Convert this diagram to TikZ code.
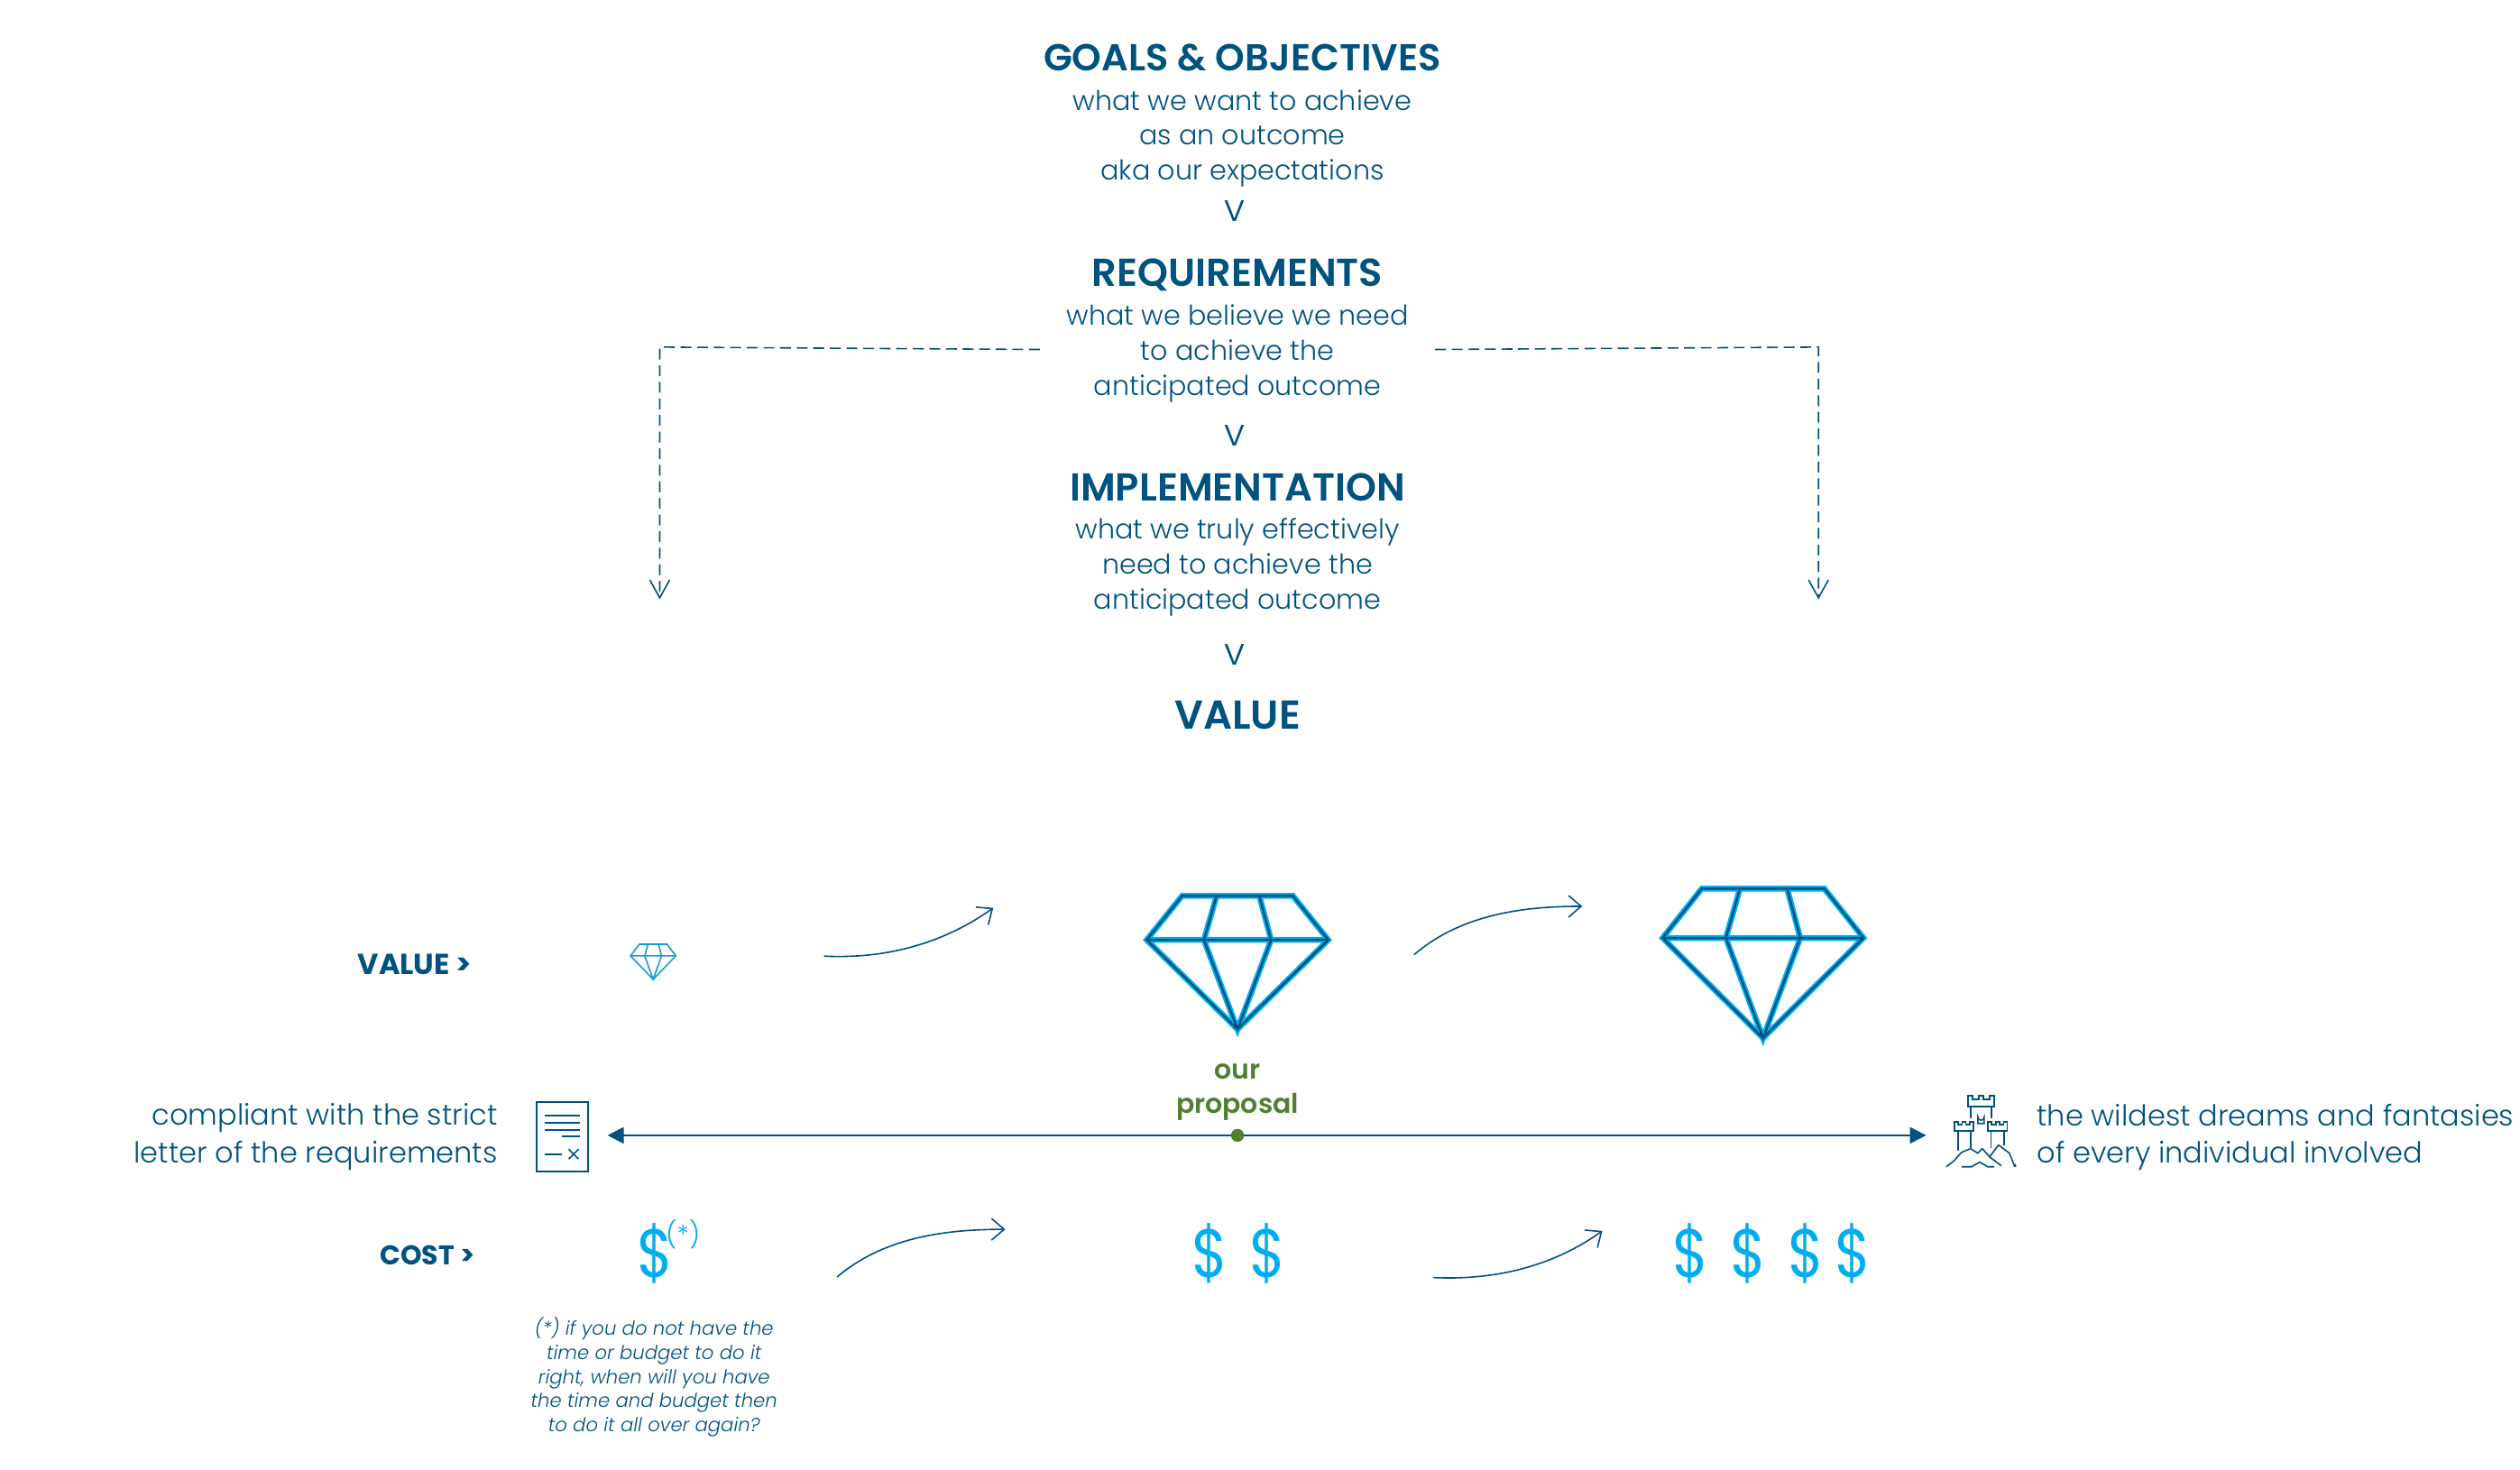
\documentclass[tikz,border=0pt]{standalone}
\usepackage{fontspec}
\usetikzlibrary{arrows.meta}
\newfontfamily\bodyf{Poppins}[UprightFont=* Light,ItalicFont=* Light Italic,BoldFont=* SemiBold]
\newfontfamily\headf{Poppins}[UprightFont=* SemiBold]
\newfontfamily\heavyf{Poppins}[UprightFont=* Bold]
\newfontfamily\regf{Poppins}
\definecolor{navy}{HTML}{00527F}
\definecolor{cyanb}{HTML}{00AEEF}
\definecolor{midb}{HTML}{1A9CD0}
\definecolor{leaf}{HTML}{4F7F2F}
\tikzset{
 x=0.4455pt,y=-0.4455pt,
 head/.style={text=navy,inner sep=0pt,font=\headf\fontsize{10.8}{12}\selectfont},
 body/.style={text=navy,inner sep=0pt,align=center,font=\bodyf\fontsize{7.55}{9.65}\selectfont},
 side/.style={text=navy,inner sep=0pt,font=\bodyf\fontsize{8}{10.3}\selectfont},
 rowlab/.style={text=navy,inner sep=0pt,font=\heavyf\fontsize{7.5}{9}\selectfont},
 prop/.style={text=leaf,inner sep=0pt,align=center,font=\headf\fontsize{7.5}{9.4}\selectfont},
 dollar/.style={text=cyanb,inner sep=0pt,xscale=0.85,font=\regf\fontsize{19}{22}\selectfont},
 note/.style={text=navy,inner sep=0pt,align=center,font=\bodyf\itshape\fontsize{5.3}{6.7}\selectfont},
 vee/.style={text=navy,inner sep=0pt,font=\bodyf\fontsize{10.5}{12}\selectfont},
 dashline/.style={navy,line width=0.4pt,dash pattern=on 3pt off 1.6pt,-{Straight Barb[length=5pt,width=5.5pt]}},
 curve/.style={navy,line width=0.4pt,line cap=round,-{Straight Barb[length=3.5pt,width=6pt]}},
 axis/.style={navy,line width=0.55pt,{Triangle[length=4.5pt,width=4.5pt]}-{Triangle[length=4.5pt,width=4.5pt]}},
 icon/.style={navy,line width=0.4pt,line cap=butt},
}
% diamond: #1 left,#2 top,#3 width,#4 height
\newcommand{\gemlines}[5]{%
 \draw[#5] (#1+.195*#3,#2) -- (#1+.805*#3,#2) -- (#1+#3,#2+.33*#4) -- (#1+.5*#3,#2+#4) -- (#1,#2+.33*#4) -- cycle
  (#1,#2+.33*#4) -- (#1+#3,#2+.33*#4)
  (#1+.385*#3,#2) -- (#1+.315*#3,#2+.33*#4) -- (#1+.5*#3,#2+#4) -- (#1+.685*#3,#2+.33*#4) -- (#1+.62*#3,#2);}
\newcommand{\gemtwo}[4]{%
 \gemlines{#1}{#2}{#3}{#4}{cyanb,line width=1.6pt,line join=miter}
 \gemlines{#1}{#2}{#3}{#4}{navy,line width=0.6pt,line join=miter}}
\begin{document}
\begin{tikzpicture}
\useasboundingbox (0,-1) rectangle (1568,913.75);
% stack
\node[head,font=\headf\fontsize{10.4}{12}\selectfont] (goals) at (773,35) {GOALS \& OBJECTIVES};
\node[body] (goalsb) at (773,85) {what we want to achieve\\as an outcome\\aka our expectations};
\node[vee] (v1) at (768,130.5) {v};
\node[head] (req) at (770,170) {REQUIREMENTS};
\node[body] (reqb) at (770,219) {what we believe we need\\to achieve the\\anticipated outcome};
\node[vee] (v2) at (768,270) {v};
\node[head] (impl) at (770,302) {IMPLEMENTATION};
\node[body] (implb) at (770,352) {what we truly effectively\\need to achieve the\\anticipated outcome};
\node[vee] (v3) at (768,406.5) {v};
\node[head,font=\headf\fontsize{11.2}{12}\selectfont] (val) at (770,444) {VALUE};
% dashed connectors
\coordinate (dl0) at (647,216.5);
\coordinate (dl1) at (410.5,215);
\coordinate (dl2) at (410.5,372);
\coordinate (dr0) at (893,216.5);
\coordinate (dr1) at (1131.5,215);
\coordinate (dr2) at (1131.5,372);
\draw[dashline] (dl0) -- (dl1) -- (dl2);
\draw[dashline] (dr0) -- (dr1) -- (dr2);
% row labels
\node[rowlab,font=\heavyf\fontsize{8}{9}\selectfont] (rv) at (258,599) {VALUE >};
\node[rowlab] (rc) at (266,780) {COST >};
% gems
\gemlines{392.3}{586.6}{28.2}{21.9}{midb,line width=0.4pt}
\gemtwo{713.5}{556.5}{113}{83}
\gemtwo{1034.5}{552}{125}{93}
% curves
\coordinate (a0) at (513,594); \coordinate (a1) at (618,564);
\coordinate (b0) at (880,593); \coordinate (b1) at (984.5,563);
\coordinate (c0) at (521,793.5); \coordinate (c1) at (625.5,764);
\coordinate (d0) at (892,794); \coordinate (d1) at (997,765);
\draw[curve] (a0) .. controls (555,596) and (590,584) .. (a1);
\draw[curve] (b0) .. controls (908,569) and (945,563) .. (b1);
\draw[curve] (c0) .. controls (549,770) and (585,764) .. (c1);
\draw[curve] (d0) .. controls (934,796) and (969,785) .. (d1);
% axis
\coordinate (ax0) at (378,705.5);
\coordinate (ax1) at (1198.5,705.5);
\draw[axis] (ax0) -- (ax1);
\node[circle,fill=leaf,inner sep=0pt,minimum size=3.6pt] (dot) at (770,705.5) {};
\node[prop] (our) at (770,678.5) {our\\proposal};
% side text
\node[side,anchor=east,align=right] (lt) at (310,706.5) {compliant with the strict\\letter of the requirements};
\node[side,anchor=west,align=left] (rt) at (1267,706.5) {the wildest dreams and fantasies\\of every individual involved};
% document icon (reference pixels)
\begin{scope}[x=0.25pt,y=-0.25pt,icon]
\draw (595,1220) rectangle (652,1297);
\draw (604,1235) -- (643,1235) (604,1243) -- (643,1243) (604,1251) -- (643,1251) (623,1258) -- (643,1258) (604,1278) -- (623,1278);
\draw (630.5,1272.5) -- (641.5,1283.5) (630.5,1283.5) -- (641.5,1272.5);
\end{scope}
% castle icon (reference pixels)
\begin{scope}[x=0.25pt,y=-0.25pt,icon]
\draw (2182,1213) -- (2182,1225) -- (2211,1225) -- (2211,1213) -- (2206,1213) -- (2206,1217) -- (2199,1217) -- (2199,1213) -- (2194,1213) -- (2194,1217) -- (2187,1217) -- (2187,1213) -- cycle;
\draw (2185,1225) -- (2185,1238) (2208,1225) -- (2208,1238);
\draw (2193,1244) -- (2193,1237) arc[start angle=180,end angle=0,radius=3.5] -- (2200,1244) -- cycle;
\draw (2167,1242) -- (2167,1252) -- (2188,1252) -- (2188,1242) -- (2184,1242) -- (2184,1245) -- (2179.5,1245) -- (2179.5,1242) -- (2175.5,1242) -- (2175.5,1245) -- (2171,1245) -- (2171,1242) -- cycle;
\draw (2204,1242) -- (2204,1252) -- (2225.5,1252) -- (2225.5,1242) -- (2221.5,1242) -- (2221.5,1245) -- (2217,1245) -- (2217,1242) -- (2213,1242) -- (2213,1245) -- (2208,1245) -- (2208,1242) -- cycle;
\draw (2171,1252) -- (2171,1274) (2185,1252) -- (2185,1271) (2207.5,1252) -- (2207.5,1271) (2222,1252) -- (2222,1268);
\draw (2158,1292) -- (2166,1286) -- (2175,1276) -- (2185,1272) -- (2193,1277) -- (2198,1272) -- (2206,1281) -- (2216,1268) -- (2228,1277) -- (2234,1292);
\draw (2206,1281) -- (2219,1291) (2234,1289) -- (2235,1292);
\draw (2175,1292) -- (2186,1292) -- (2195,1287) -- (2204,1292) -- (2211,1292);
\end{scope}
% dollars
\node[dollar] (d1a) at (408,779) {\$};
\node[text=cyanb,inner sep=0pt,font=\bodyf\fontsize{7.2}{9}\selectfont] (ast) at (425,767) {(*)};
\node[dollar] (d2a) at (753,779) {\$};
\node[dollar] (d2b) at (789,779) {\$};
\node[dollar] (d3a) at (1052,779) {\$};
\node[dollar] (d3b) at (1088,779) {\$};
\node[dollar] (d3c) at (1124,779) {\$};
\node[dollar] (d3d) at (1153,779) {\$};
\node[note] (nt) at (407,856) {(*) if you do not have the\\time or budget to do it\\right, when will you have\\the time and budget then\\to do it all over again?};
\end{tikzpicture}
\end{document}
